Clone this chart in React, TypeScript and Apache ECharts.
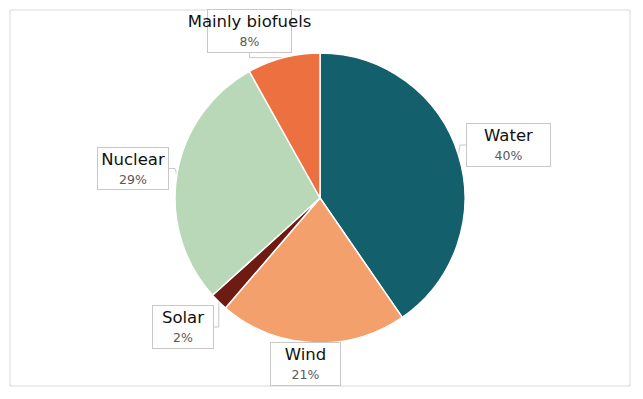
import React, { useEffect, useRef } from "react";
import * as echarts from "echarts";

const categories = ["Water", "Wind", "Solar", "Nuclear", "Mainly biofuels"];
const shares = [40.4, 20.9, 2.0, 28.6, 8.1];
const colors = ["#135F6B", "#F4A06C", "#6E1B13", "#B9D8B7", "#EC7040"];

// label box placement (chart coords: page minus 8px body margin)
const boxes: Record<string, { cx: number; top: number; w: number; h: number }> = {
  Water: { cx: 500.5, top: 116, w: 83, h: 43 },
  Wind: { cx: 297.5, top: 335, w: 69, h: 43 },
  Solar: { cx: 175, top: 298, w: 60, h: 43 },
  Nuclear: { cx: 125, top: 140, w: 70, h: 42 },
  "Mainly biofuels": { cx: 241.5, top: 2, w: 83, h: 43 },
};

export default function App() {
  const ref = useRef<HTMLDivElement>(null);
  useEffect(() => {
    if (!ref.current) return;
    const chart = echarts.init(ref.current, undefined, { renderer: "svg" });
    chart.setOption({
      animation: false,
      graphic: [
        {
          type: "rect",
          shape: { x: 2, y: 2, width: 620, height: 376 },
          style: { fill: "none", stroke: "#D9D9D9", lineWidth: 1 },
          z: -1,
        },
      ],
      series: [
        {
          type: "pie",
          center: [312, 190],
          radius: 145,
          startAngle: 90,
          clockwise: true,
          percentPrecision: 0,
          itemStyle: { borderColor: "#fff", borderWidth: 1.5 },
          label: {
            show: true,
            position: "outside",
            formatter: "{n|{b}}\n{p|{d}%}",
            backgroundColor: "#fff",
            borderColor: "#C8C8C8",
            borderWidth: 1,
            padding: [1, 0, 2, 0],
            align: "center",
            overflow: "none",
            rich: {
              n: { fontFamily: "DejaVu Sans", fontSize: 16.5, color: "#111", lineHeight: 21, align: "center" },
              p: { fontFamily: "DejaVu Sans", fontSize: 12.5, color: "#595959", lineHeight: 19, align: "center" },
            },
          },
          labelLine: { show: true, length: 6, length2: 6, lineStyle: { color: "#C8C8C8", width: 1 } },
          labelLayout: (params: any) => {
            const b = boxes[categories[params.dataIndex]];
            return { x: b.cx, y: b.top, align: "center", verticalAlign: "top" };
          },
          data: categories.map((c, i) => ({
            name: c,
            value: shares[i],
            itemStyle: { color: colors[i] },
            label: { width: boxes[c].w, height: boxes[c].h - 4 },
          })),
        },
      ],
    });
    return () => chart.dispose();
  }, []);
  return <div ref={ref} style={{ width: 627, height: 383 }} />;
}
